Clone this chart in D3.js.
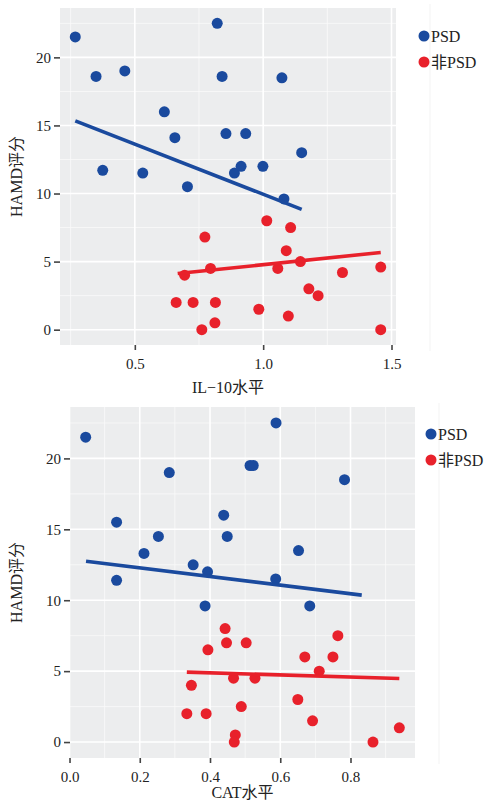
<!DOCTYPE html>
<html>
<head>
<meta charset="utf-8">
<script src="https://cdn.jsdelivr.net/npm/d3@7"></script>
<style>
  body { margin: 0; background: #fff; }
</style>
</head>
<body>
<svg id="chart" width="486" height="804"></svg>
<script>
// IL-10 panel
const il10PsdX = [0.268, 0.349, 0.461, 0.375, 0.531, 0.615, 0.656, 0.705, 0.821, 0.840, 1.073, 0.855, 0.932, 1.150, 0.888, 0.914, 0.999, 1.081];
const il10PsdY = [21.5, 18.6, 19.0, 11.7, 11.5, 16.0, 14.1, 10.5, 22.5, 18.6, 18.5, 14.4, 14.4, 13.0, 11.5, 12.0, 12.0, 9.6];
const il10NonX = [0.773, 0.694, 0.795, 0.661, 0.727, 0.814, 0.761, 0.812, 1.014, 1.107, 1.090, 1.057, 1.145, 0.983, 1.098, 1.178, 1.214, 1.309, 1.458, 1.458];
const il10NonY = [6.8, 4.0, 4.5, 2.0, 2.0, 2.0, 0.0, 0.5, 8.0, 7.5, 5.8, 4.5, 5.0, 1.5, 1.0, 3.0, 2.5, 4.2, 4.6, 0.0];
const il10PsdFit = [[0.268, 15.34], [1.150, 8.84]];
const il10NonFit = [[0.667, 4.12], [1.458, 5.67]];

// CAT panel
const catPsdX = [0.046, 0.588, 0.514, 0.523, 0.783, 0.134, 0.284, 0.253, 0.212, 0.134, 0.352, 0.393, 0.439, 0.449, 0.652, 0.587, 0.386, 0.684];
const catPsdY = [21.5, 22.5, 19.5, 19.5, 18.5, 15.5, 19.0, 14.5, 13.3, 11.4, 12.5, 12.0, 16.0, 14.5, 13.5, 11.5, 9.6, 9.6];
const catNonX = [0.443, 0.447, 0.503, 0.394, 0.347, 0.467, 0.528, 0.334, 0.389, 0.489, 0.472, 0.469, 0.764, 0.670, 0.750, 0.711, 0.650, 0.692, 0.864, 0.939];
const catNonY = [8.0, 7.0, 7.0, 6.5, 4.0, 4.5, 4.5, 2.0, 2.0, 2.5, 0.5, 0.0, 7.5, 6.0, 6.0, 5.0, 3.0, 1.5, 0.0, 1.0];
const catPsdFit = [[0.047, 12.75], [0.832, 10.36]];
const catNonFit = [[0.334, 4.93], [0.939, 4.48]];

const yTicks = [0, 5, 10, 15, 20];
const il10XTicks = [0.5, 1.0, 1.5];
const catXTicks = [0.0, 0.2, 0.4, 0.6, 0.8];
const groups = ["PSD", "非PSD"];

const blue = "#1a4a9e";
const red = "#e8212b";
const font = "'Liberation Serif', 'DejaVu Serif', 'Noto Sans CJK SC', serif";
const svg = d3.select("#chart");

function expand(vals) {
  const [lo, hi] = d3.extent(vals);
  const pad = (hi - lo) * 0.05;
  return [lo - pad, hi + pad];
}

function drawPanel(cfg) {
  const allX = cfg.psdX.concat(cfg.nonX);
  const allY = cfg.psdY.concat(cfg.nonY);
  const x = d3.scaleLinear().domain(expand(allX)).range([cfg.left, cfg.right]);
  const y = d3.scaleLinear().domain(expand(allY)).range([cfg.bottom, cfg.top]);

  const g = svg.append("g");
  // faint edge of the figure on the right
  g.append("line")
    .attr("x1", cfg.edgeX).attr("x2", cfg.edgeX)
    .attr("y1", cfg.top - 4).attr("y2", cfg.bottom + 6)
    .attr("stroke", "#f3f3f3");

  g.append("rect")
    .attr("x", cfg.left).attr("y", cfg.top)
    .attr("width", cfg.right - cfg.left).attr("height", cfg.bottom - cfg.top)
    .attr("fill", "#ecedee");

  const xMinor = cfg.xTicks.map((d) => d - cfg.xStep / 2)
    .concat([cfg.xTicks[cfg.xTicks.length - 1] + cfg.xStep / 2])
    .filter((d) => d >= x.domain()[0] && d <= x.domain()[1]);
  const yMinor = yTicks.map((d) => d + 2.5).filter((d) => d <= y.domain()[1]);

  g.selectAll("line.xminor").data(xMinor).enter().append("line")
    .attr("x1", (d) => x(d)).attr("x2", (d) => x(d))
    .attr("y1", cfg.top).attr("y2", cfg.bottom)
    .attr("stroke", "#fafafa").attr("stroke-width", 0.8);
  g.selectAll("line.yminor").data(yMinor).enter().append("line")
    .attr("y1", (d) => y(d)).attr("y2", (d) => y(d))
    .attr("x1", cfg.left).attr("x2", cfg.right)
    .attr("stroke", "#fafafa").attr("stroke-width", 0.8);
  g.selectAll("line.xmajor").data(cfg.xTicks).enter().append("line")
    .attr("x1", (d) => x(d)).attr("x2", (d) => x(d))
    .attr("y1", cfg.top).attr("y2", cfg.bottom)
    .attr("stroke", "#fff").attr("stroke-width", 1.6);
  g.selectAll("line.ymajor").data(yTicks).enter().append("line")
    .attr("y1", (d) => y(d)).attr("y2", (d) => y(d))
    .attr("x1", cfg.left).attr("x2", cfg.right)
    .attr("stroke", "#fff").attr("stroke-width", 1.6);

  // axes
  const xAxis = g.append("g")
    .attr("transform", `translate(0,${cfg.bottom})`)
    .call(d3.axisBottom(x).tickValues(cfg.xTicks).tickFormat(d3.format(".1f")).tickSize(5).tickPadding(8));
  const yAxis = g.append("g")
    .attr("transform", `translate(${cfg.left},0)`)
    .call(d3.axisLeft(y).tickValues(yTicks).tickSize(6).tickPadding(3));
  [xAxis, yAxis].forEach((a) => {
    a.attr("font-family", font).attr("font-size", 15);
    a.select(".domain").remove();
    a.selectAll(".tick line").attr("stroke", "#444").attr("stroke-width", 1.6);
    a.selectAll(".tick text").attr("fill", "#222");
  });

  // points
  const pts = cfg.psdX.map((v, i) => ({ x: v, y: cfg.psdY[i], c: blue }))
    .concat(cfg.nonX.map((v, i) => ({ x: v, y: cfg.nonY[i], c: red })));
  g.selectAll("circle.pt").data(pts).enter().append("circle")
    .attr("cx", (d) => x(d.x)).attr("cy", (d) => y(d.y)).attr("r", 5.5)
    .attr("fill", (d) => d.c);

  // fitted lines
  const line = d3.line().x((d) => x(d[0])).y((d) => y(d[1]));
  [[cfg.psdFit, blue], [cfg.nonFit, red]].forEach(([fit, c]) => {
    g.append("path").attr("d", line(fit))
      .attr("fill", "none").attr("stroke", c).attr("stroke-width", 3.6);
  });

  // axis titles
  g.append("text")
    .attr("x", (cfg.left + cfg.right) / 2).attr("y", cfg.xTitleY)
    .attr("text-anchor", "middle").attr("font-size", 16)
    .attr("font-family", font).attr("fill", "#222")
    .text(cfg.xTitle);
  g.append("text")
    .attr("transform", `translate(${cfg.yTitleX},${(cfg.top + cfg.bottom) / 2}) rotate(-90)`)
    .attr("text-anchor", "middle").attr("font-size", 16)
    .attr("font-family", font).attr("fill", "#222")
    .text("HAMD评分");

  // legend
  const leg = g.selectAll("g.leg").data(groups).enter().append("g")
    .attr("transform", (d, i) => `translate(${cfg.legX},${cfg.legY + i * 26})`);
  leg.append("circle").attr("r", 5.5).attr("fill", (d, i) => (i === 0 ? blue : red));
  leg.append("text").attr("x", 7).attr("y", 5.5)
    .attr("font-size", 16).attr("font-family", font).attr("fill", "#222")
    .text((d) => d);
}

drawPanel({
  psdX: il10PsdX, psdY: il10PsdY, nonX: il10NonX, nonY: il10NonY,
  psdFit: il10PsdFit, nonFit: il10NonFit,
  xTicks: il10XTicks, xStep: 0.5, xTitle: "IL−10水平",
  left: 60, right: 396, top: 8, bottom: 345,
  xTitleY: 393, yTitleX: 22,
  legX: 424, legY: 36, edgeX: 430
});

drawPanel({
  psdX: catPsdX, psdY: catPsdY, nonX: catNonX, nonY: catNonY,
  psdFit: catPsdFit, nonFit: catNonFit,
  xTicks: catXTicks, xStep: 0.2, xTitle: "CAT水平",
  left: 70, right: 415, top: 407, bottom: 758,
  xTitleY: 798, yTitleX: 22,
  legX: 431, legY: 434, edgeX: 439
});
</script>
</body>
</html>
